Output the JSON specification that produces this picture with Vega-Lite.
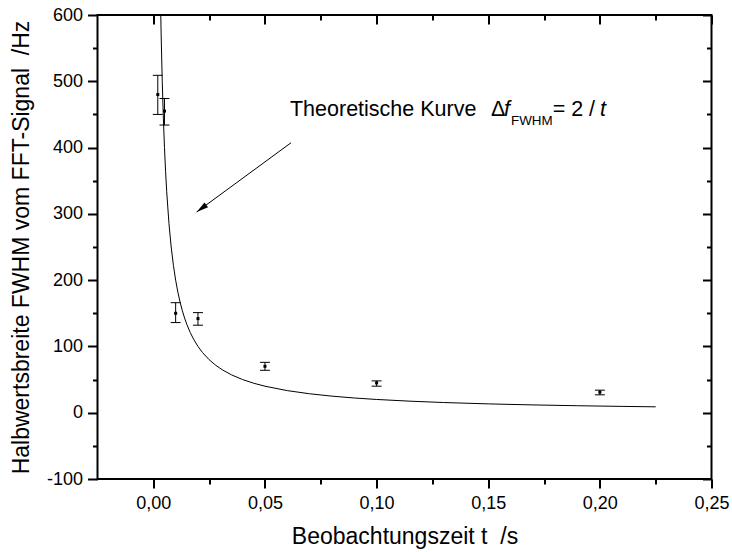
{
  "$schema": "https://vega.github.io/schema/vega-lite/v6.json",
  "width": 614,
  "height": 464,
  "autosize": "none",
  "padding": {"left": 97.5, "top": 15, "right": 20.5, "bottom": 73},
  "background": "white",
  "config": {
    "view": {"stroke": "black", "strokeWidth": 2},
    "axis": {
      "grid": false,
      "domain": false,
      "labelFont": "Liberation Sans",
      "labelFontSize": 18,
      "labelColor": "black",
      "titleFont": "Liberation Sans",
      "titleFontSize": 23,
      "titleFontWeight": "normal",
      "titleColor": "black"
    }
  },
  "datasets": {
    "curve": [
      {"t": 0.003, "f": 666.67}, {"t": 0.0035, "f": 571.43}, {"t": 0.004, "f": 500},
      {"t": 0.0045, "f": 444.44}, {"t": 0.005, "f": 400}, {"t": 0.0055, "f": 363.64},
      {"t": 0.006, "f": 333.33}, {"t": 0.007, "f": 285.71}, {"t": 0.008, "f": 250},
      {"t": 0.009, "f": 222.22}, {"t": 0.01, "f": 200}, {"t": 0.011, "f": 181.82},
      {"t": 0.012, "f": 166.67}, {"t": 0.013, "f": 153.85}, {"t": 0.014, "f": 142.86},
      {"t": 0.015, "f": 133.33}, {"t": 0.0165, "f": 121.21}, {"t": 0.018, "f": 111.11},
      {"t": 0.02, "f": 100}, {"t": 0.022, "f": 90.91}, {"t": 0.025, "f": 80},
      {"t": 0.028, "f": 71.43}, {"t": 0.031, "f": 64.52}, {"t": 0.035, "f": 57.14},
      {"t": 0.04, "f": 50}, {"t": 0.045, "f": 44.44}, {"t": 0.05, "f": 40},
      {"t": 0.06, "f": 33.33}, {"t": 0.07, "f": 28.57}, {"t": 0.08, "f": 25},
      {"t": 0.09, "f": 22.22}, {"t": 0.1, "f": 20}, {"t": 0.115, "f": 17.39},
      {"t": 0.13, "f": 15.38}, {"t": 0.15, "f": 13.33}, {"t": 0.17, "f": 11.76},
      {"t": 0.19, "f": 10.53}, {"t": 0.21, "f": 9.52}, {"t": 0.225, "f": 8.89}
    ],
    "meas": [
      {"t": 0.002, "f": 480, "lo": 450, "hi": 509},
      {"t": 0.005, "f": 455, "lo": 434, "hi": 474},
      {"t": 0.01, "f": 150, "lo": 136, "hi": 166},
      {"t": 0.02, "f": 142, "lo": 132, "hi": 151},
      {"t": 0.05, "f": 70, "lo": 64, "hi": 76},
      {"t": 0.1, "f": 45, "lo": 40, "hi": 48},
      {"t": 0.2, "f": 31, "lo": 27, "hi": 34}
    ],
    "arrow": [
      {"t": 0.0617, "f": 407.3, "o": 0},
      {"t": 0.0194, "f": 302.8, "o": 1}
    ],
    "anchor": [
      {"t": 0.0612, "f": 447.6}
    ]
  },
  "layer": [
    {
      "data": {"name": "meas"},
      "mark": {"type": "point", "shape": "square", "size": 9, "filled": true, "color": "black", "opacity": 1},
      "encoding": {
        "x": {
          "field": "t", "type": "quantitative",
          "scale": {"domain": [-0.025, 0.25], "nice": false, "zero": false},
          "axis": {
            "orient": "bottom",
            "zindex": 1,
            "values": [0, 0.05, 0.1, 0.15, 0.2, 0.25],
            "ticks": true,
            "tickColor": "black",
            "tickWidth": 2,
            "tickSize": 9,
            "labelPadding": 6,
            "labelFlush": false,
            "labelOverlap": false,
            "labelExpr": "replace(format(datum.value, '.2f'), '.', ',')",
            "title": "Beobachtungszeit t \u00a0/s",
            "titleX": 307,
            "titleY": 64.3,
            "titleAlign": "center",
            "titleBaseline": "alphabetic"
          }
        },
        "y": {
          "field": "f", "type": "quantitative",
          "scale": {"domain": [-100, 600], "nice": false, "zero": false},
          "axis": {
            "orient": "left",
            "zindex": 1,
            "values": [-100, 0, 100, 200, 300, 400, 500, 600],
            "ticks": true,
            "tickColor": "black",
            "tickWidth": 2,
            "tickSize": 10,
            "labelPadding": 5,
            "labelFlush": false,
            "labelOverlap": false,
            "labelExpr": "datum.value + ''",
            "title": "Halbwertsbreite FWHM vom FFT-Signal \u00a0/Hz",
            "titleX": -69.5,
            "titleY": 232,
            "titleAngle": -90,
            "titleAlign": "center",
            "titleBaseline": "alphabetic"
          }
        }
      }
    },
    {
      "data": {"name": "meas"},
      "mark": {"type": "point", "shape": "stroke", "size": 100, "stroke": "black", "strokeWidth": 1, "filled": false, "opacity": 1},
      "encoding": {
        "x": {
          "field": "t", "type": "quantitative",
          "axis": {
            "orient": "bottom", "zindex": 1,
            "values": [0.025, 0.075, 0.125, 0.175, 0.225],
            "ticks": true, "tickColor": "black", "tickWidth": 2,
            "tickSize": 5, "labels": false, "title": null
          }
        },
        "y": {
          "field": "hi", "type": "quantitative",
          "axis": {
            "orient": "left", "zindex": 1,
            "values": [-50, 50, 150, 250, 350, 450, 550],
            "ticks": true, "tickColor": "black", "tickWidth": 2,
            "tickSize": 5, "labels": false, "title": null
          }
        }
      }
    },
    {
      "data": {"name": "meas"},
      "mark": {"type": "point", "shape": "stroke", "size": 100, "stroke": "black", "strokeWidth": 1, "filled": false, "opacity": 1},
      "encoding": {
        "x": {
          "field": "t", "type": "quantitative",
          "axis": {
            "orient": "top", "zindex": 1,
            "values": [0, 0.05, 0.1, 0.15, 0.2, 0.25],
            "offset": -9,
            "ticks": true, "tickColor": "black", "tickWidth": 2,
            "tickSize": 9, "labels": false, "title": null
          }
        },
        "y": {
          "field": "lo", "type": "quantitative",
          "axis": {
            "orient": "right", "zindex": 1,
            "values": [-100, 0, 100, 200, 300, 400, 500, 600],
            "offset": -9,
            "ticks": true, "tickColor": "black", "tickWidth": 2,
            "tickSize": 9, "labels": false, "title": null
          }
        }
      }
    },
    {
      "data": {"name": "arrow"},
      "transform": [{"filter": "datum.o == 1"}],
      "mark": {"type": "point", "shape": "M0,0L0.5,2L-0.5,2Z", "size": 144, "angle": 233.7, "filled": true, "color": "black", "opacity": 1},
      "encoding": {
        "x": {
          "field": "t", "type": "quantitative",
          "axis": {
            "orient": "top", "zindex": 1,
            "values": [0.025, 0.075, 0.125, 0.175, 0.225],
            "offset": -5,
            "ticks": true, "tickColor": "black", "tickWidth": 2,
            "tickSize": 5, "labels": false, "title": null
          }
        },
        "y": {
          "field": "f", "type": "quantitative",
          "axis": {
            "orient": "right", "zindex": 1,
            "values": [-50, 50, 150, 250, 350, 450, 550],
            "offset": -5,
            "ticks": true, "tickColor": "black", "tickWidth": 2,
            "tickSize": 5, "labels": false, "title": null
          }
        }
      }
    },
    {
      "data": {"name": "meas"},
      "mark": {"type": "rule", "color": "black", "strokeWidth": 1},
      "encoding": {
        "x": {"field": "t", "type": "quantitative", "axis": null},
        "y": {"field": "lo", "type": "quantitative", "axis": null},
        "y2": {"field": "hi"}
      }
    },
    {
      "data": {"name": "curve"},
      "mark": {"type": "line", "clip": true, "color": "black", "strokeWidth": 1},
      "encoding": {
        "x": {"field": "t", "type": "quantitative", "axis": null},
        "y": {"field": "f", "type": "quantitative", "axis": null}
      }
    },
    {
      "data": {"name": "arrow"},
      "mark": {"type": "line", "color": "black", "strokeWidth": 1},
      "encoding": {
        "x": {"field": "t", "type": "quantitative", "axis": null},
        "y": {"field": "f", "type": "quantitative", "axis": null},
        "order": {"field": "o"}
      }
    },
    {
      "data": {"name": "anchor"},
      "mark": {"type": "text", "text": "Theoretische Kurve", "align": "left", "baseline": "alphabetic", "fontSize": 21.5, "font": "Liberation Sans", "color": "black"},
      "encoding": {
        "x": {"field": "t", "type": "quantitative", "axis": null},
        "y": {"field": "f", "type": "quantitative", "axis": null}
      }
    },
    {
      "data": {"name": "anchor"},
      "mark": {"type": "text", "text": "Δ", "align": "left", "baseline": "alphabetic", "fontSize": 21.5, "font": "Liberation Sans", "color": "black", "dx": 201},
      "encoding": {
        "x": {"field": "t", "type": "quantitative", "axis": null},
        "y": {"field": "f", "type": "quantitative", "axis": null}
      }
    },
    {
      "data": {"name": "anchor"},
      "mark": {"type": "text", "text": "f", "align": "left", "baseline": "alphabetic", "fontSize": 21.5, "fontStyle": "italic", "font": "Liberation Sans", "color": "black", "dx": 214},
      "encoding": {
        "x": {"field": "t", "type": "quantitative", "axis": null},
        "y": {"field": "f", "type": "quantitative", "axis": null}
      }
    },
    {
      "data": {"name": "anchor"},
      "mark": {"type": "text", "text": "FWHM", "align": "left", "baseline": "alphabetic", "fontSize": 13.4, "font": "Liberation Sans", "color": "black", "dx": 221, "dy": 9.3},
      "encoding": {
        "x": {"field": "t", "type": "quantitative", "axis": null},
        "y": {"field": "f", "type": "quantitative", "axis": null}
      }
    },
    {
      "data": {"name": "anchor"},
      "mark": {"type": "text", "text": "= 2 /", "align": "left", "baseline": "alphabetic", "fontSize": 21.5, "font": "Liberation Sans", "color": "black", "dx": 262.7},
      "encoding": {
        "x": {"field": "t", "type": "quantitative", "axis": null},
        "y": {"field": "f", "type": "quantitative", "axis": null}
      }
    },
    {
      "data": {"name": "anchor"},
      "mark": {"type": "text", "text": "t", "align": "left", "baseline": "alphabetic", "fontSize": 21.5, "fontStyle": "italic", "font": "Liberation Sans", "color": "black", "dx": 310},
      "encoding": {
        "x": {"field": "t", "type": "quantitative", "axis": null},
        "y": {"field": "f", "type": "quantitative", "axis": null}
      }
    }
  ],
  "resolve": {"axis": {"x": "independent", "y": "independent"}}
}
